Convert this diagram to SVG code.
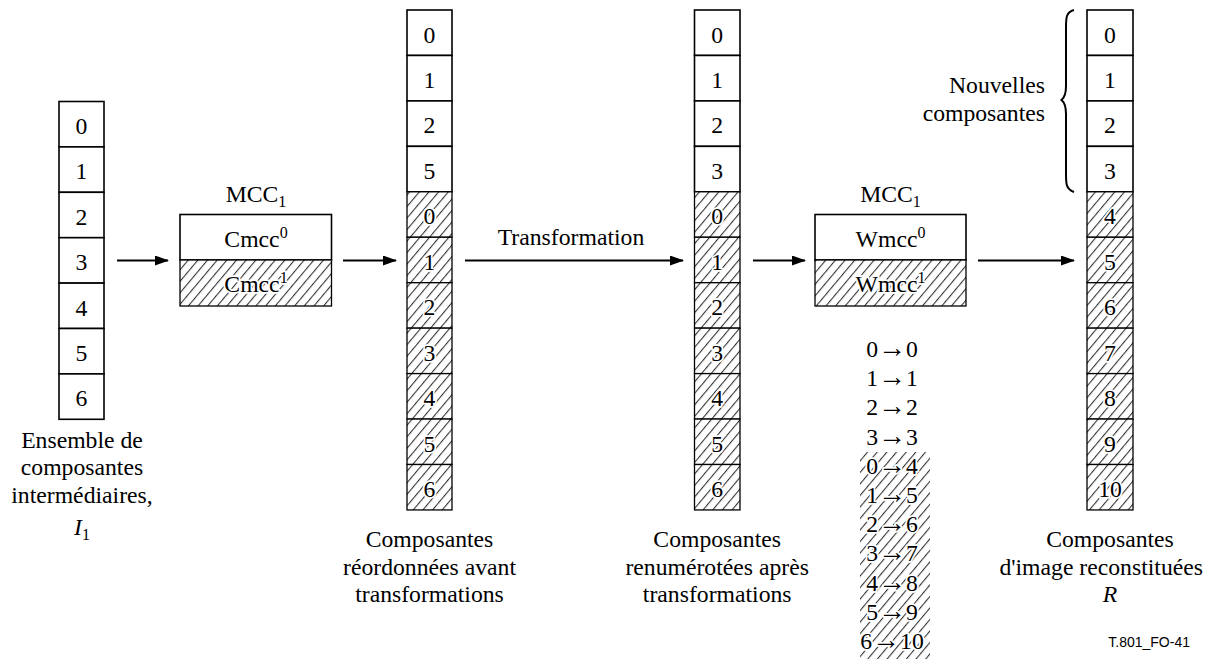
<svg xmlns="http://www.w3.org/2000/svg" width="1206" height="659" viewBox="0 0 1206 659">
<defs>
<style>
text{font-family:"Liberation Serif","Times New Roman",serif;font-size:23.7px;fill:#000}
.c{text-anchor:middle}
.k{stroke:#fff;stroke-width:3.5;paint-order:stroke;stroke-linejoin:round}
.cell{fill:#fff;stroke:#000;stroke-width:1.6}
.hc{fill:url(#hatch);stroke:#000;stroke-width:1.3}
.sub{font-size:16px}
.ar{font-size:28px}
.ln{stroke:#000;stroke-width:2;fill:none}
.code{font-family:"Liberation Sans",Arial,sans-serif;font-size:14px}
</style>
<pattern id="hatch" patternUnits="userSpaceOnUse" width="7.4" height="10" patternTransform="rotate(40)">
<rect width="7.4" height="10" fill="#fff"/>
<line x1="0.6" y1="0" x2="0.6" y2="10" stroke="#000" stroke-width="0.9"/>
</pattern>
<marker id="ah" markerWidth="14" markerHeight="10" refX="13" refY="5" orient="auto" markerUnits="userSpaceOnUse">
<path d="M0,0 L14,5 L0,10 Z" fill="#000"/>
</marker>
</defs>
<rect width="1206" height="659" fill="#fff"/>

<g id="connectors">
<line class="ln" x1="117" y1="260.5" x2="168" y2="260.5" marker-end="url(#ah)"/>
<line class="ln" x1="343" y1="260.5" x2="396" y2="260.5" marker-end="url(#ah)"/>
<line class="ln" x1="465" y1="260.5" x2="683" y2="260.5" marker-end="url(#ah)"/>
<text class="c" x="571" y="245">Transformation</text>
<line class="ln" x1="753" y1="260.5" x2="805" y2="260.5" marker-end="url(#ah)"/>
<line class="ln" x1="978" y1="260.5" x2="1074" y2="260.5" marker-end="url(#ah)"/>
</g>

<g id="col-I1">
<rect class="cell" x="59" y="101.5" width="45" height="45.4"/>
<rect class="cell" x="59" y="146.9" width="45" height="45.4"/>
<rect class="cell" x="59" y="192.3" width="45" height="45.4"/>
<rect class="cell" x="59" y="237.7" width="45" height="45.4"/>
<rect class="cell" x="59" y="283.1" width="45" height="45.4"/>
<rect class="cell" x="59" y="328.5" width="45" height="45.4"/>
<rect class="cell" x="59" y="373.9" width="45" height="45.4"/>
<text class="c" x="81.5" y="134">0</text>
<text class="c" x="81.5" y="179.4">1</text>
<text class="c" x="81.5" y="224.8">2</text>
<text class="c" x="81.5" y="270.2">3</text>
<text class="c" x="81.5" y="315.6">4</text>
<text class="c" x="81.5" y="361">5</text>
<text class="c" x="81.5" y="406.4">6</text>
<text class="c" x="82" y="448">Ensemble de</text>
<text class="c" x="82" y="475">composantes</text>
<text class="c" x="82" y="502.5">intermédiaires,</text>
<text class="c" x="82" y="535"><tspan font-style="italic">I</tspan><tspan class="sub" dy="5">1</tspan></text>
</g>

<g id="mcc-c">
<text class="c" x="256" y="202">MCC<tspan class="sub" dy="5">1</tspan></text>
<rect class="cell" x="180" y="214.5" width="151.5" height="45.5"/>
<rect class="hc" x="180" y="260" width="151.5" height="46"/>
<text class="c" x="256" y="246.5">Cmcc<tspan class="sub" dy="-9">0</tspan></text>
<text class="c k" x="256" y="291.5">Cmcc<tspan class="sub" dy="-9">1</tspan></text>
</g>

<g id="col-reordered">
<rect class="cell" x="407" y="10" width="45" height="45.45"/>
<rect class="cell" x="407" y="55.45" width="45" height="45.45"/>
<rect class="cell" x="407" y="100.9" width="45" height="45.45"/>
<rect class="cell" x="407" y="146.35" width="45" height="45.45"/>
<rect class="hc" x="407" y="191.8" width="45" height="45.45"/>
<rect class="hc" x="407" y="237.25" width="45" height="45.45"/>
<rect class="hc" x="407" y="282.7" width="45" height="45.45"/>
<rect class="hc" x="407" y="328.15" width="45" height="45.45"/>
<rect class="hc" x="407" y="373.6" width="45" height="45.45"/>
<rect class="hc" x="407" y="419.05" width="45" height="45.45"/>
<rect class="hc" x="407" y="464.5" width="45" height="45.45"/>
<text class="c" x="429.5" y="42.5">0</text>
<text class="c" x="429.5" y="88">1</text>
<text class="c" x="429.5" y="133.4">2</text>
<text class="c" x="429.5" y="178.9">5</text>
<text class="c k" x="429.5" y="224.3">0</text>
<text class="c k" x="429.5" y="269.8">1</text>
<text class="c k" x="429.5" y="315.2">2</text>
<text class="c k" x="429.5" y="360.7">3</text>
<text class="c k" x="429.5" y="406.1">4</text>
<text class="c k" x="429.5" y="451.6">5</text>
<text class="c k" x="429.5" y="497">6</text>
<text class="c" x="429.5" y="547">Composantes</text>
<text class="c" x="429.5" y="574.5">réordonnées avant</text>
<text class="c" x="429.5" y="602">transformations</text>
</g>

<g id="col-renumbered">
<rect class="cell" x="694.5" y="10" width="45.5" height="45.45"/>
<rect class="cell" x="694.5" y="55.45" width="45.5" height="45.45"/>
<rect class="cell" x="694.5" y="100.9" width="45.5" height="45.45"/>
<rect class="cell" x="694.5" y="146.35" width="45.5" height="45.45"/>
<rect class="hc" x="694.5" y="191.8" width="45.5" height="45.45"/>
<rect class="hc" x="694.5" y="237.25" width="45.5" height="45.45"/>
<rect class="hc" x="694.5" y="282.7" width="45.5" height="45.45"/>
<rect class="hc" x="694.5" y="328.15" width="45.5" height="45.45"/>
<rect class="hc" x="694.5" y="373.6" width="45.5" height="45.45"/>
<rect class="hc" x="694.5" y="419.05" width="45.5" height="45.45"/>
<rect class="hc" x="694.5" y="464.5" width="45.5" height="45.45"/>
<text class="c" x="717.2" y="42.5">0</text>
<text class="c" x="717.2" y="88">1</text>
<text class="c" x="717.2" y="133.4">2</text>
<text class="c" x="717.2" y="178.9">3</text>
<text class="c k" x="717.2" y="224.3">0</text>
<text class="c k" x="717.2" y="269.8">1</text>
<text class="c k" x="717.2" y="315.2">2</text>
<text class="c k" x="717.2" y="360.7">3</text>
<text class="c k" x="717.2" y="406.1">4</text>
<text class="c k" x="717.2" y="451.6">5</text>
<text class="c k" x="717.2" y="497">6</text>
<text class="c" x="717.2" y="547">Composantes</text>
<text class="c" x="717.2" y="574.5">renumérotées après</text>
<text class="c" x="717.2" y="602">transformations</text>
</g>

<g id="mcc-w">
<text class="c" x="890.5" y="202">MCC<tspan class="sub" dy="5">1</tspan></text>
<rect class="cell" x="815" y="214.5" width="151" height="45.5"/>
<rect class="hc" x="815" y="260" width="151" height="46"/>
<text class="c" x="890.5" y="246.5">Wmcc<tspan class="sub" dy="-9">0</tspan></text>
<text class="c k" x="890.5" y="291.5">Wmcc<tspan class="sub" dy="-9">1</tspan></text>
</g>

<g id="mapping">
<rect x="860" y="452" width="70" height="207" fill="url(#hatch)"/>
<text class="c" x="892" y="357">0<tspan class="ar">→</tspan>0</text>
<text class="c" x="892" y="386.2">1<tspan class="ar">→</tspan>1</text>
<text class="c" x="892" y="415.4">2<tspan class="ar">→</tspan>2</text>
<text class="c" x="892" y="444.6">3<tspan class="ar">→</tspan>3</text>
<text class="c k" x="892" y="473.8">0<tspan class="ar">→</tspan>4</text>
<text class="c k" x="892" y="503">1<tspan class="ar">→</tspan>5</text>
<text class="c k" x="892" y="532.2">2<tspan class="ar">→</tspan>6</text>
<text class="c k" x="892" y="561.4">3<tspan class="ar">→</tspan>7</text>
<text class="c k" x="892" y="590.6">4<tspan class="ar">→</tspan>8</text>
<text class="c k" x="892" y="619.8">5<tspan class="ar">→</tspan>9</text>
<text class="c k" x="892" y="649">6<tspan class="ar">→</tspan>10</text>
</g>

<g id="new-components">
<path d="M1074,10 C1066,12 1066,18 1066,28 L1066,86 C1066,95 1064,98 1061.5,100 C1064,102 1066,105 1066,114 L1066,174 C1066,184 1066,189 1074,192" fill="none" stroke="#000" stroke-width="2"/>
<text x="1045" y="92.5" text-anchor="end">Nouvelles</text>
<text x="1045" y="121" text-anchor="end">composantes</text>
</g>

<g id="col-R">
<rect class="cell" x="1087" y="10" width="46" height="45.45"/>
<rect class="cell" x="1087" y="55.45" width="46" height="45.45"/>
<rect class="cell" x="1087" y="100.9" width="46" height="45.45"/>
<rect class="cell" x="1087" y="146.35" width="46" height="45.45"/>
<rect class="hc" x="1087" y="191.8" width="46" height="45.45"/>
<rect class="hc" x="1087" y="237.25" width="46" height="45.45"/>
<rect class="hc" x="1087" y="282.7" width="46" height="45.45"/>
<rect class="hc" x="1087" y="328.15" width="46" height="45.45"/>
<rect class="hc" x="1087" y="373.6" width="46" height="45.45"/>
<rect class="hc" x="1087" y="419.05" width="46" height="45.45"/>
<rect class="hc" x="1087" y="464.5" width="46" height="45.45"/>
<text class="c" x="1110" y="42.5">0</text>
<text class="c" x="1110" y="88">1</text>
<text class="c" x="1110" y="133.4">2</text>
<text class="c" x="1110" y="178.9">3</text>
<text class="c k" x="1110" y="224.3">4</text>
<text class="c k" x="1110" y="269.8">5</text>
<text class="c k" x="1110" y="315.2">6</text>
<text class="c k" x="1110" y="360.7">7</text>
<text class="c k" x="1110" y="406.1">8</text>
<text class="c k" x="1110" y="451.6">9</text>
<text class="c k" x="1110" y="497">10</text>
<text class="c" x="1110" y="547">Composantes</text>
<text x="1203" y="574.5" text-anchor="end">d'image reconstituées</text>
<text class="c" x="1110" y="602" font-style="italic">R</text>
</g>

<text class="code" x="1190" y="647" text-anchor="end">T.801_FO-41</text>
</svg>
